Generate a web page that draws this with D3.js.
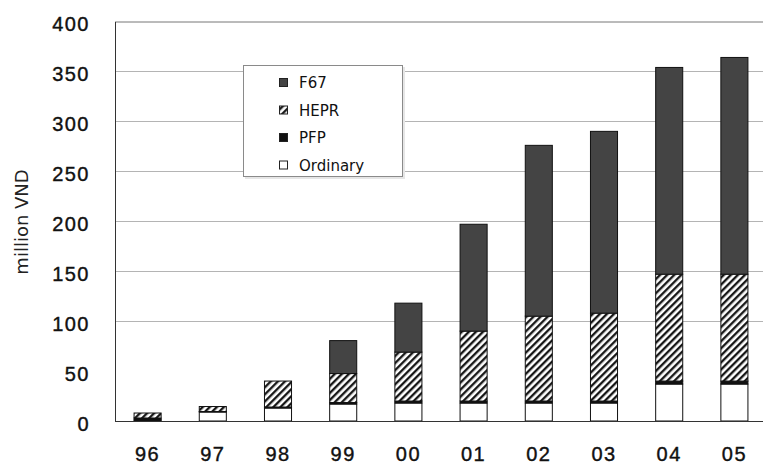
<!DOCTYPE html>
<html>
<head>
<meta charset="utf-8">
<script src="https://cdn.jsdelivr.net/npm/d3@7"></script>
<style>
  body { margin: 0; background: #fff; }
  svg { display: block; font-family: "DejaVu Sans", sans-serif; }
</style>
</head>
<body>
<svg id="chart" width="763" height="464"></svg>
<script>
const years = ["96", "97", "98", "99", "00", "01", "02", "03", "04", "05"];
const ordinary = [1, 9, 13, 17, 18, 18, 18, 18, 37, 37];
const pfp = [2, 0.5, 1, 1.5, 2, 2, 2, 2, 3, 3];
const hepr = [5, 5, 26, 29, 49, 70, 85, 88, 107, 107];
const f67 = [0, 0, 0, 33, 49, 107, 171, 182, 207, 217];
const yTicks = [0, 50, 100, 150, 200, 250, 300, 350, 400];
const gridTicks = [100, 150, 200, 250, 300, 350];
const seriesKeys = ["Ordinary", "PFP", "HEPR", "F67"];
const legendKeys = ["F67", "HEPR", "PFP", "Ordinary"];

const fills = {
  F67: "#444",
  HEPR: "url(#hatch)",
  PFP: "#111",
  Ordinary: "#fff"
};

const svg = d3.select("#chart");

// hatch pattern for HEPR
const defs = svg.append("defs");
defs.append("pattern")
  .attr("id", "hatch")
  .attr("patternUnits", "userSpaceOnUse")
  .attr("width", 5)
  .attr("height", 5)
  .attr("patternTransform", "rotate(45)")
  .call(p => {
    p.append("rect").attr("width", 5).attr("height", 5).attr("fill", "#fff");
    p.append("line")
      .attr("x1", 1.2).attr("y1", 0).attr("x2", 1.2).attr("y2", 5)
      .attr("stroke", "#111").attr("stroke-width", 2.3);
  });

const rows = years.map((y, i) => ({
  year: y,
  Ordinary: ordinary[i],
  PFP: pfp[i],
  HEPR: hepr[i],
  F67: f67[i]
}));

const x = d3.scaleBand()
  .domain(years)
  .range([115, 767])
  .paddingInner(0.585)
  .paddingOuter(0.2925);

const y = d3.scaleLinear()
  .domain([0, 400])
  .range([421, 21.5]);

// grid
svg.append("g")
  .selectAll("line")
  .data(gridTicks)
  .join("line")
  .attr("x1", 115)
  .attr("x2", 763)
  .attr("y1", d => Math.round(y(d)) + 0.5)
  .attr("y2", d => Math.round(y(d)) + 0.5)
  .attr("stroke", "#b4b4b4")
  .attr("stroke-width", 1);

// top border
svg.append("line")
  .attr("x1", 115).attr("x2", 763)
  .attr("y1", 22).attr("y2", 22)
  .attr("stroke", "#777");

const stack = d3.stack().keys(seriesKeys);
const layers = stack(rows);

svg.append("g")
  .selectAll("g")
  .data(layers)
  .join("g")
  .attr("fill", d => fills[d.key])
  .selectAll("rect")
  .data(d => d.filter(s => s[1] - s[0] > 0))
  .join("rect")
  .attr("x", d => x(d.data.year))
  .attr("y", d => y(d[1]))
  .attr("width", x.bandwidth())
  .attr("height", d => y(d[0]) - y(d[1]))
  .attr("stroke", "#111")
  .attr("stroke-width", 1);

// axes
const yAxis = svg.append("g")
  .attr("transform", "translate(115,0)")
  .call(d3.axisLeft(y).tickValues(yTicks).tickSize(0).tickPadding(25));
yAxis.select(".domain").attr("stroke", "#333");
yAxis.selectAll("text")
  .attr("font-size", 20)
  .attr("letter-spacing", 1.5)
  .attr("fill", "#111")
  .attr("stroke", "#111")
  .attr("stroke-width", 0.4)
  .attr("dy", "0.47em");

const xAxis = svg.append("g")
  .attr("transform", "translate(0,421)")
  .call(d3.axisBottom(x).tickSize(0).tickPadding(26));
xAxis.select(".domain").attr("stroke", "#333").attr("d", "M115,0.5H763");
xAxis.selectAll("text")
  .attr("font-size", 20)
  .attr("letter-spacing", 1.5)
  .attr("fill", "#111")
  .attr("stroke", "#111")
  .attr("stroke-width", 0.4);

// y label
svg.append("text")
  .attr("transform", "translate(28,222) rotate(-90)")
  .attr("text-anchor", "middle")
  .attr("font-size", 18)
  .attr("fill", "#222")
  .text("million VND");

// legend
const legend = svg.append("g");
legend.append("rect")
  .attr("x", 245).attr("y", 67)
  .attr("width", 160).attr("height", 112)
  .attr("fill", "#e6e6e6");
legend.append("rect")
  .attr("x", 243.5).attr("y", 65.5)
  .attr("width", 159).attr("height", 111)
  .attr("fill", "#fff")
  .attr("stroke", "#8a8a8a");

const item = legend.selectAll("g.item")
  .data(legendKeys)
  .join("g")
  .attr("class", "item")
  .attr("transform", (d, i) => `translate(279,${88 + i * 27.5})`);

item.append("rect")
  .attr("x", 0.5).attr("y", -9.5)
  .attr("width", 8).attr("height", 8)
  .attr("fill", d => fills[d])
  .attr("stroke", "#222");

item.append("text")
  .attr("x", 20)
  .attr("y", 0)
  .attr("font-size", 15)
  .attr("fill", "#111")
  .text(d => d);
</script>
</body>
</html>
